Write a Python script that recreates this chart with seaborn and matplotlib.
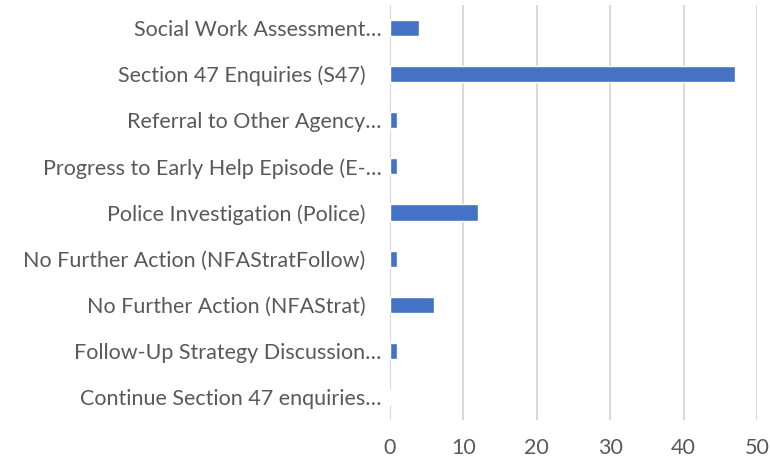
import matplotlib
matplotlib.use("Agg")
import matplotlib.pyplot as plt
import seaborn as sns
import pandas as pd

# categories top to bottom, as in the chart
categories = [
    "Social Work Assessment\u2026",
    "Section 47 Enquiries (S47)   ",
    "Referral to Other Agency\u2026",
    "Progress to Early Help Episode (E-\u2026",
    "Police Investigation (Police)   ",
    "No Further Action (NFAStratFollow)   ",
    "No Further Action (NFAStrat)   ",
    "Follow-Up Strategy Discussion\u2026",
    "Continue Section 47 enquiries\u2026",
]
counts = [4, 47, 1, 1, 12, 1, 6, 1, 0]
xticks = [0, 10, 20, 30, 40, 50]

df = pd.DataFrame({"Outcome": categories, "Count": counts})

sns.set_theme(style="white")
plt.rcParams["font.family"] = ["Lato", "DejaVu Sans"]

fig = plt.figure(figsize=(7.7, 4.65), dpi=100)
ax = fig.add_axes([390 / 770, 45 / 465, 367 / 770, 415 / 465])

sns.barplot(data=df, x="Count", y="Outcome", color="#4472C4", saturation=1,
            width=0.35, ax=ax)

ax.set_xlim(0, 50)
ax.set_ylim(len(categories) - 0.5, -0.5)
ax.set_xticks(xticks)
ax.xaxis.grid(True, color="#D9D9D9", linewidth=1.5)
ax.set_axisbelow(True)
for s in ax.spines.values():
    s.set_visible(False)
ax.set_xlabel("")
ax.set_ylabel("")
ax.tick_params(axis="both", length=0, labelsize=15.5, labelcolor="#595959")
ax.tick_params(axis="x", pad=13)
ax.tick_params(axis="y", pad=6)

fig.savefig("out.png", dpi=100)
